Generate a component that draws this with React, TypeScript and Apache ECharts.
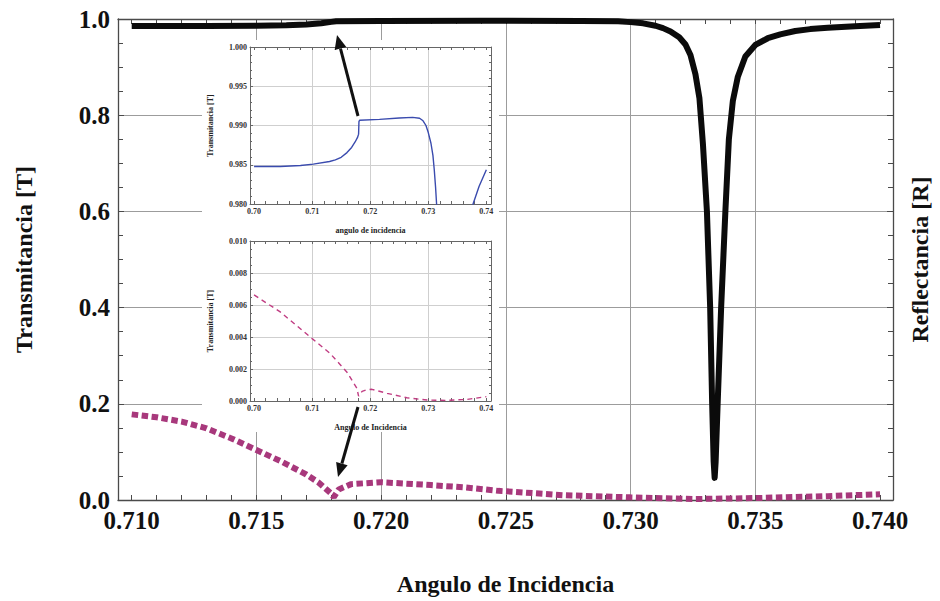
import React, { useEffect, useRef } from "react";
import * as echarts from "echarts";

const FONT = "Liberation Serif";

// ---------- main chart ----------
const MAIN_X_MIN = 0.70945;
const MAIN_X_MAX = 0.74052;
const MAIN_X_TICKS = [0.71, 0.715, 0.72, 0.725, 0.73, 0.735, 0.74];
const MAIN_X_GRID = [0.715, 0.72, 0.725, 0.73, 0.735];
const MAIN_X_MINOR = Array.from({ length: 31 }, (_, i) => +(0.71 + i * 0.001).toFixed(3));

// Transmitancia (black solid)
const transmitancia: [number, number][] = [
  [0.71, 0.9855], [0.713, 0.9857], [0.715, 0.9862], [0.7162, 0.9872], [0.717, 0.9888],
  [0.7176, 0.991], [0.718, 0.994], [0.7182, 0.9955], [0.72, 0.9958], [0.724, 0.9962],
  [0.728, 0.9961], [0.7295, 0.9952], [0.73, 0.9935], [0.7305, 0.991], [0.731, 0.986],
  [0.7313, 0.981], [0.7316, 0.974], [0.73195, 0.962], [0.7322, 0.947], [0.7324, 0.925],
  [0.7326, 0.885], [0.73276, 0.835], [0.7329, 0.74], [0.73306, 0.6], [0.73319, 0.4],
  [0.73327, 0.2], [0.73333, 0.08], [0.73337, 0.046], [0.73341, 0.08], [0.73349, 0.2],
  [0.73363, 0.4], [0.7338, 0.6], [0.73394, 0.75], [0.7341, 0.83], [0.7343, 0.88],
  [0.7346, 0.922], [0.735, 0.946], [0.7355, 0.96], [0.736, 0.968], [0.7366, 0.975],
  [0.7372, 0.979], [0.7379, 0.982], [0.739, 0.985], [0.74, 0.9875],
];

// Reflectancia (magenta dotted)
const reflectancia: [number, number][] = [
  [0.71, 0.178], [0.711, 0.172], [0.712, 0.163], [0.713, 0.149], [0.714, 0.128],
  [0.715, 0.104], [0.716, 0.08], [0.717, 0.053], [0.7175, 0.036], [0.718, 0.013],
  [0.7181, 0.006], [0.7183, 0.022], [0.7188, 0.033], [0.72, 0.037], [0.722, 0.031],
  [0.7234, 0.026], [0.7247, 0.019], [0.7253, 0.017], [0.7273, 0.01], [0.73, 0.0055],
  [0.7326, 0.002], [0.735, 0.004], [0.7379, 0.008], [0.74, 0.012],
];

// ---------- insets ----------
const INSET_X_MIN = 0.6993;
const INSET_X_MAX = 0.7408;
const INSET_X_TICKS = [0.7, 0.71, 0.72, 0.73, 0.74];
const INSET_X_GRID = [0.71, 0.72, 0.73];
const INSET_X_MINOR = Array.from({ length: 21 }, (_, i) => +(0.7 + i * 0.002).toFixed(3));

const insetTransA: [number, number][] = [
  [0.7, 0.98478], [0.7045, 0.98478], [0.708, 0.9849], [0.7102, 0.98508], [0.713, 0.98541],
  [0.714, 0.98562], [0.715, 0.98595], [0.716, 0.98655], [0.7168, 0.9872], [0.7174, 0.9879],
  [0.7178, 0.98845], [0.718, 0.9889], [0.71806, 0.99049], [0.71817, 0.99066], [0.7216, 0.99078],
  [0.725, 0.99095], [0.7273, 0.99104], [0.7285, 0.99092], [0.7291, 0.9906], [0.7296, 0.99],
  [0.73, 0.9891], [0.73046, 0.98774], [0.7308, 0.9862], [0.73103, 0.98436], [0.73125, 0.9822],
  [0.73143, 0.98], [0.7316, 0.979],
];
const insetTransB: [number, number][] = [
  [0.7375, 0.979], [0.73771, 0.98], [0.73874, 0.98224], [0.74, 0.98436],
];
const insetRefl: [number, number][] = [
  [0.7, 0.00663], [0.7045, 0.00557], [0.71, 0.0039], [0.7131, 0.00297], [0.716, 0.0018],
  [0.7177, 0.0008], [0.718, 0.0003], [0.7186, 0.0006], [0.7194, 0.0007], [0.7203, 0.00073],
  [0.7229, 0.00048], [0.7263, 0.0002], [0.7298, 0.00006], [0.7332, 0.00004],
  [0.7367, 0.0001], [0.74, 0.00027],
];

const frameMain = { color: "#4a4a4a", width: 1.3 };
const frameInset = { color: "#666", width: 1 };
const mainLabel = { fontFamily: FONT, fontWeight: "bold" as const, fontSize: 25, color: "#111" };
const mainName = { fontFamily: FONT, fontWeight: "bold" as const, fontSize: 24, color: "#111" };
const insetLabel = { fontFamily: FONT, fontWeight: "bold" as const, fontSize: 8, color: "#333" };

function xAxes(grid: number, min: number, max: number, labels: number[], gridVals: number[], minor: number[], inset: boolean, name: string, nameGap: number, digits: number) {
  const z = inset ? 3 : 0;
  const line = inset ? frameInset : frameMain;
  const tickLen = inset ? 3 : 5;
  return [
    {
      type: "value", gridIndex: grid, position: "bottom", min, max, z,
      axisLine: { show: true, onZero: false, lineStyle: line },
      axisTick: { show: true, inside: true, length: tickLen, customValues: minor, lineStyle: { color: line.color } },
      axisLabel: {
        customValues: labels, formatter: (v: number) => v.toFixed(digits),
        margin: inset ? 3 : 8, ...(inset ? insetLabel : mainLabel),
      },
      splitLine: { show: false },
      name, nameLocation: "middle", nameGap,
      nameTextStyle: inset ? { ...insetLabel, color: "#222" } : mainName,
    },
    {
      type: "value", gridIndex: grid, position: "bottom", min, max, z,
      axisLine: { show: false, onZero: false },
      axisTick: { show: false, customValues: gridVals },
      axisLabel: { show: false },
      splitLine: { show: true, lineStyle: { color: inset ? "#cfcfcf" : "#9c9c9c", width: 1 } },
    },
    {
      type: "value", gridIndex: grid, position: "top", min, max, z,
      axisLine: { show: true, onZero: false, lineStyle: line },
      axisTick: { show: true, inside: true, length: tickLen, customValues: minor, lineStyle: { color: line.color } },
      axisLabel: { show: false },
      splitLine: { show: false },
    },
  ];
}

function yAxes(grid: number, min: number, max: number, interval: number, minorSplit: number, inset: boolean, name: string, nameGap: number, digits: number, rightName?: string, rightGap?: number) {
  const z = inset ? 3 : 0;
  const line = inset ? frameInset : frameMain;
  const tickLen = inset ? 3 : 6;
  return [
    {
      type: "value", gridIndex: grid, position: "left", min, max, interval, z,
      axisLine: { show: true, onZero: false, lineStyle: line },
      axisTick: { show: true, inside: true, length: tickLen, lineStyle: { color: line.color } },
      minorTick: { show: true, splitNumber: minorSplit, length: inset ? 2 : 5, lineStyle: { color: line.color } },
      axisLabel: { formatter: (v: number) => v.toFixed(digits), margin: inset ? 3 : 8, ...(inset ? insetLabel : mainLabel) },
      splitLine: { show: true, showMinLine: false, showMaxLine: false, lineStyle: { color: inset ? "#cfcfcf" : "#9c9c9c", width: 1 } },
      name, nameLocation: "middle", nameGap,
      nameTextStyle: inset ? { ...insetLabel, color: "#222" } : mainName,
    },
    {
      type: "value", gridIndex: grid, position: "right", min, max, interval, z,
      axisLine: { show: true, onZero: false, lineStyle: line },
      axisTick: { show: true, inside: true, length: tickLen, lineStyle: { color: line.color } },
      minorTick: { show: true, splitNumber: minorSplit, length: inset ? 2 : 5, lineStyle: { color: line.color } },
      axisLabel: { show: false },
      splitLine: { show: false },
      name: rightName || "", nameLocation: "middle", nameGap: rightGap || 0,
      nameTextStyle: mainName,
    },
  ];
}

export default function App() {
  const ref = useRef<HTMLDivElement>(null);
  useEffect(() => {
    document.body.style.margin = "0";
    if (!ref.current) return;
    const chart = echarts.init(ref.current, null, { renderer: "svg" });
    const option: any = {
      animation: false,
      backgroundColor: "#fff",
      textStyle: { fontFamily: FONT },
      grid: [
        { left: 118, right: 42, top: 19, bottom: 100 },
        { left: 250, right: 449, top: 47, bottom: 397 },
        { left: 250, right: 449, top: 241, bottom: 200 },
      ],
      xAxis: [
        ...xAxes(0, MAIN_X_MIN, MAIN_X_MAX, MAIN_X_TICKS, MAIN_X_GRID, MAIN_X_MINOR, false, "Angulo de Incidencia", 72, 3),
        ...xAxes(1, INSET_X_MIN, INSET_X_MAX, INSET_X_TICKS, INSET_X_GRID, INSET_X_MINOR, true, "angulo de incidencia", 22, 2),
        ...xAxes(2, INSET_X_MIN, INSET_X_MAX, INSET_X_TICKS, INSET_X_GRID, INSET_X_MINOR, true, "Angulo de Incidencia", 22, 2),
      ],
      yAxis: [
        ...yAxes(0, 0, 1, 0.2, 4, false, "Transmitancia [T]", 82, 1, "Reflectancia [R]", 15),
        ...yAxes(1, 0.98, 1.0, 0.005, 5, true, "Transmitancia [T]", 36, 3),
        ...yAxes(2, 0, 0.01, 0.002, 4, true, "Transmitancia [T]", 36, 3),
      ],
      series: [
        {
          type: "line", xAxisIndex: 0, yAxisIndex: 0, data: transmitancia, showSymbol: false, z: 2,
          lineStyle: { color: "#0b0b0b", width: 6, cap: "butt", join: "round" },
        },
        {
          type: "line", xAxisIndex: 0, yAxisIndex: 0, data: reflectancia, showSymbol: false, z: 2,
          lineStyle: { color: "#A8387C", width: 6, type: [6.5, 3.5], cap: "butt" },
        },
        {
          type: "line", xAxisIndex: 3, yAxisIndex: 2, data: insetTransA, showSymbol: false, z: 4,
          lineStyle: { color: "#3A4BAE", width: 1.4 },
        },
        {
          type: "line", xAxisIndex: 3, yAxisIndex: 2, data: insetTransB, showSymbol: false, z: 4,
          lineStyle: { color: "#3A4BAE", width: 1.4 },
        },
        {
          type: "line", xAxisIndex: 6, yAxisIndex: 4, data: insetRefl, showSymbol: false, z: 4,
          lineStyle: { color: "#C03C82", width: 1.4, type: [5, 4] },
        },
      ],
      graphic: [
        { type: "rect", z: 1, silent: true, shape: { x: 202, y: 40, width: 297, height: 392 }, style: { fill: "#fff" } },
        { type: "line", z: 10, shape: { x1: 358, y1: 116, x2: 340.5, y2: 48.6 }, style: { stroke: "#111", lineWidth: 3 } },
        { type: "polygon", z: 10, shape: { points: [[337, 35], [346.3, 47.1], [334.7, 50.1]] }, style: { fill: "#111" } },
        { type: "line", z: 10, shape: { x1: 358, y1: 407, x2: 341.9, y2: 463.5 }, style: { stroke: "#111", lineWidth: 3 } },
        { type: "polygon", z: 10, shape: { points: [[338, 477], [347.6, 465.2], [336.1, 461.9]] }, style: { fill: "#111" } },
      ],
    };
    chart.setOption(option);
    return () => chart.dispose();
  }, []);
  return (
    <div
      ref={ref}
      style={{ position: "absolute", left: 0, top: 0, width: 940, height: 601, background: "#fff" }}
    />
  );
}
